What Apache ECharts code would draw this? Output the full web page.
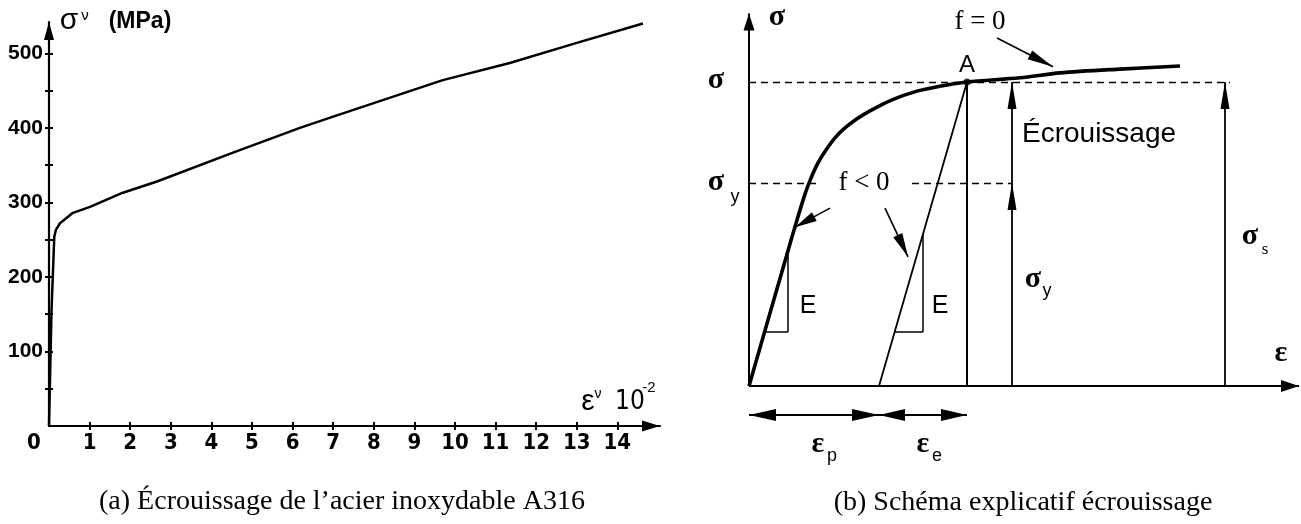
<!DOCTYPE html>
<html>
<head>
<meta charset="utf-8">
<script src="https://cdn.jsdelivr.net/npm/echarts@6/dist/echarts.min.js"></script>
<style>
html,body{margin:0;padding:0;background:#fff;}
#main{width:1301px;height:524px;}
</style>
</head>
<body>
<div id="main"></div>
<script>
// (a) courbe A316 : deformation (x 10^-2) et contrainte (MPa)
var deformA = [0, 0.06, 0.13, 0.17, 0.27, 0.59, 1.01, 1.82, 2.66, 4.5, 6.18, 7, 9.7, 11.35, 13, 14.63];
var contrA  = [0, 152, 254, 263, 272, 286, 294, 313, 328, 366, 400, 415, 464, 487, 514, 540];
var ticksX  = [1,2,3,4,5,6,7,8,9,10,11,12,13,14];
var ticksY  = [50,100,150,200,250,300,350,400,450,500];
var labelsY = [100,200,300,400,500];

// (b) schema explicatif, unites arbitraires
var deformB = [0, 7.6, 9.6, 11.2, 12.4, 13.8, 15.4, 17.2, 19.2, 21.6, 24.2, 28.6, 33.6, 38.2, 43.6, 54.2, 62.2, 74.2, 86.2];
var contrB  = [0, 34.7, 43.7, 50.5, 54.7, 58.7, 62.1, 65.3, 67.9, 70.3, 72.4, 75.3, 77.6, 78.9, 80, 81.1, 82.4, 83.4, 84.2];
var sigB = 80, sigYB = 53.4;
var epsA = 43.6, epsP = 26;
var flX1 = 52.6, flX2 = 95.2;

function paires(xs, ys){
	var r = [];
	for(var i = 0 ; i < xs.length ; i++){
		r.push([xs[i], ys[i]]);
	}
	return r;
}

// segment de markLine, fleche en bout si taille donnee
function seg(p1, p2, t2, t1, style){
	var a = {coord:p1, symbol:'none', lineStyle:style || {}};
	var b = {coord:p2, symbol:'none'};
	if(t2){ b.symbol = 'triangle'; b.symbolSize = t2; b.symbolOffset = [0, t2[1]/2]; }
	if(t1){ a.symbol = 'triangle'; a.symbolSize = t1; a.symbolOffset = [0, t1[1]/2]; }
	return [a, b];
}

var tirets = {type:[7,5], width:1.4, color:'#000'};
var traitsB = [
	seg([0,0], [0,98], [11,17], null, {width:2}),
	seg([0,0], [110,0], [12,18], null, {width:2}),
	seg([0,sigB], [96.2,sigB], null, null, tirets),
	seg([0,sigYB], [13.8,sigYB], null, null, tirets),
	seg([32.6,sigYB], [flX1,sigYB], null, null, tirets),
	seg([epsP,0], [epsA,sigB], null, null, {width:1.8}),
	seg([epsA,0], [epsA,sigB], null, null, {width:2}),
	seg([flX1,0], [flX1,sigYB], [9,27], null, {width:1.8}),
	seg([flX1,sigYB], [flX1,sigB], [9,27], null, {width:1.8}),
	seg([flX2,0], [flX2,sigB], [9,27], null, {width:1.8}),
	seg([7.8,14.2], [7.8,35.5], null, null, {width:1.5}),
	seg([3.1,14.2], [7.8,14.2], null, null, {width:1.5}),
	seg([34.8,14.2], [34.8,40], null, null, {width:1.5}),
	seg([29.1,14.2], [34.8,14.2], null, null, {width:1.5}),
	seg([0,-7.6], [epsP,-7.6], [12,27], [12,27], {width:1.8}),
	seg([epsP,-7.6], [epsA,-7.6], [12,26], [12,26], {width:1.8}),
	seg([49.6,91.6], [60.8,84], [10,26], null, {width:1.6}),
	seg([16.2,46.8], [9.2,41.8], [10,22], null, {width:1.6}),
	seg([27.2,46.8], [31.8,34], [10,24], null, {width:1.6})
];

function txt(x, y, s, font, align){
	return {type:'text', x:x, y:y, silent:true,
		style:{text:s, font:font, fill:'#000', align:align || 'center', verticalAlign:'middle'}};
}
var serifB = ' "Liberation Serif"';
var sans = ' "Liberation Sans"';
var etroit = ' "Liberation Sans Narrow", "DejaVu Sans Condensed", "Liberation Sans"';

var textes = [
	txt(69, 21, 'σ', '30px' + sans),
	txt(85, 16, 'ν', '15px' + sans),
	txt(140, 22, '(MPa)', 'bold 23px' + sans),
	txt(588, 402, 'ε', '30px' + sans),
	txt(598, 394, 'ν', '14px' + sans),
	txt(630, 402, '10', '26px' + etroit),
	txt(649, 388, '-2', '15px' + sans),
	txt(34, 443, '0', 'bold 22px' + etroit),

	txt(777, 17, 'σ', 'bold 30px' + serifB),
	txt(716, 80, 'σ', 'bold 30px' + serifB),
	txt(716, 182, 'σ', 'bold 30px' + serifB),
	txt(735, 197, 'y', '18px' + sans),
	txt(967, 65, 'A', '24px' + sans),
	txt(980, 22, 'f = 0', '27px' + serifB),
	txt(864, 183, 'f < 0', '27px' + serifB),
	txt(808, 306, 'E', '25px' + sans),
	txt(940, 306, 'E', '25px' + sans),
	txt(1022, 134, 'Écrouissage', '28px' + sans, 'left'),
	txt(1033, 279, 'σ', 'bold 30px' + serifB),
	txt(1047, 291, 'y', '18px' + sans),
	txt(1250, 236, 'σ', 'bold 30px' + serifB),
	txt(1265, 250, 's', '17px' + serifB),
	txt(1281, 353, 'ε', 'bold 30px' + serifB),
	txt(818, 444, 'ε', 'bold 30px' + serifB),
	txt(832, 456, 'p', '18px' + sans),
	txt(923, 444, 'ε', 'bold 30px' + serifB),
	txt(937, 456, 'e', '18px' + sans),

	txt(342, 502, '(a) Écrouissage de l’acier inoxydable A316', '28px' + serifB),
	txt(1023, 503, '(b) Schéma explicatif écrouissage', '28px' + serifB)
];

var myChart = echarts.init(document.getElementById('main'));
var option = {
	animation : false,
	backgroundColor : '#fff',
	grid : [
		{left:49, top:22, width:611, height:404, outerBoundsMode:'none', containLabel:false},
		{left:749, top:13.6, width:550, height:410.4, outerBoundsMode:'none', containLabel:false}
	],
	xAxis : [ {
		type : 'value', gridIndex : 0, position : 'bottom',
		min : 0, max : 15.05,
		axisLine : {onZero:false, lineStyle:{color:'#000', width:2.2},
			symbol:['none','triangle'], symbolSize:[11,18], symbolOffset:[0,-9]},
		axisTick : {customValues:ticksX, length:4, lineStyle:{color:'#000', width:2}},
		axisLabel : {customValues:ticksX, margin:6, color:'#000',
			fontSize:22, fontWeight:'bold', fontFamily:'"Liberation Sans Narrow", "DejaVu Sans Condensed", "Liberation Sans"'},
		splitLine : {show:false}
	}, {
		type : 'value', gridIndex : 0, position : 'bottom',
		min : 0, max : 15.05,
		axisLine : {show:false, onZero:false},
		axisTick : {customValues:ticksX, inside:true, length:4, lineStyle:{color:'#000', width:2}},
		axisLabel : {show:false},
		splitLine : {show:false}
	}, {
		type : 'value', gridIndex : 1, min : 0, max : 110, show : false
	} ],
	yAxis : [ {
		type : 'value', gridIndex : 0, position : 'left',
		min : 0, max : 542,
		axisLine : {show:true, onZero:false, lineStyle:{color:'#000', width:2.2},
			symbol:['none','triangle'], symbolSize:[10,18], symbolOffset:[0,-9]},
		axisTick : {show:true, customValues:ticksY, length:4, lineStyle:{color:'#000', width:2}},
		axisLabel : {customValues:labelsY, margin:6, color:'#000',
			fontSize:21, fontWeight:'bold', fontFamily:'"Liberation Sans"'},
		splitLine : {show:false}
	}, {
		type : 'value', gridIndex : 0, position : 'left',
		min : 0, max : 542,
		axisLine : {show:false, onZero:false},
		axisTick : {show:true, customValues:ticksY, inside:true, length:4, lineStyle:{color:'#000', width:2}},
		axisLabel : {show:false},
		splitLine : {show:false}
	}, {
		type : 'value', gridIndex : 1, min : -10, max : 98, show : false
	} ],
	series : [ {
		name : 'A316',
		type : 'line',
		xAxisIndex : 0, yAxisIndex : 0,
		data : paires(deformA, contrA),
		smooth : false,
		symbol : 'none',
		lineStyle : {color:'#000', width:2.5, join:'round'}
	}, {
		name : 'schema',
		type : 'line',
		xAxisIndex : 2, yAxisIndex : 2,
		data : paires(deformB, contrB),
		smooth : 0.3,
		symbol : 'none',
		lineStyle : {color:'#000', width:3.6, join:'round'},
		markLine : {
			silent : true,
			symbol : ['none','none'],
			label : {show:false},
			lineStyle : {color:'#000', type:'solid', width:1.6},
			emphasis : {disabled:true},
			data : traitsB
		}
	}, {
		name : 'A',
		type : 'scatter',
		xAxisIndex : 2, yAxisIndex : 2,
		data : [[epsA, sigB]],
		symbolSize : 7,
		itemStyle : {color:'#000'}
	} ],
	graphic : textes
};
myChart.setOption(option);
</script>
</body>
</html>
